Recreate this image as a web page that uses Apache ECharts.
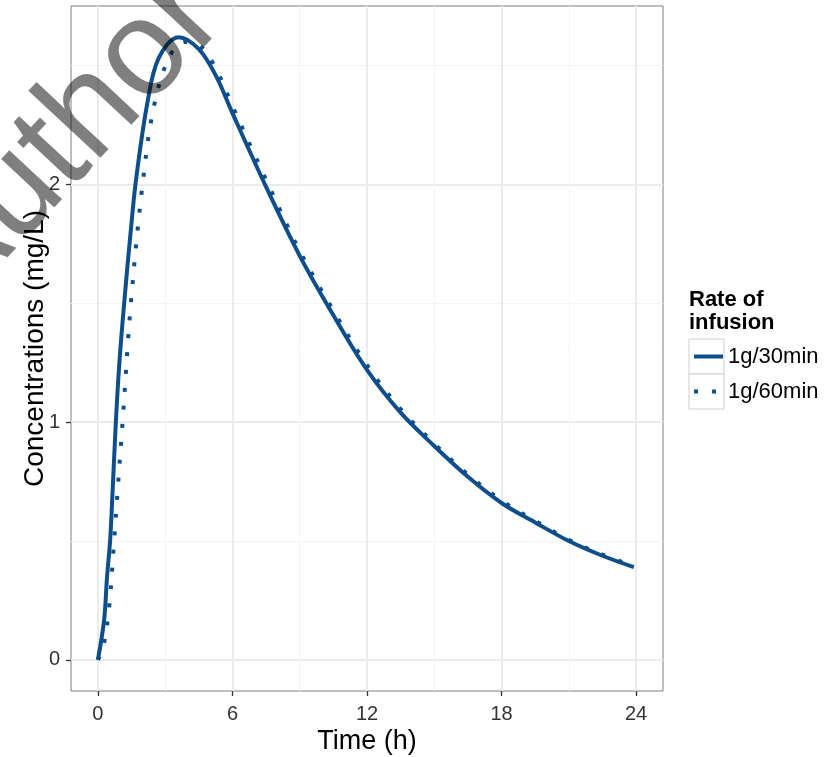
<!DOCTYPE html>
<html>
<head>
<meta charset="utf-8">
<script src="https://cdn.jsdelivr.net/npm/echarts@6/dist/echarts.min.js"></script>
<style>
html,body{margin:0;padding:0;background:#fff;}
#chart{width:829px;height:757px;}
</style>
</head>
<body>
<div id="chart"></div>
<script>
// Data
const seriesNames = ['1g/30min', '1g/60min'];
const time30 = [0, 0.28, 0.4, 0.55, 0.65, 0.8, 0.95, 1.17, 1.47, 1.7, 2.2, 2.7, 3.6, 4.5, 5.25, 6.0, 7.5, 9.0, 10.5, 12.0, 13.5, 15.0, 16.5, 18.0, 19.5, 21.0, 22.5, 23.9];
const conc30 = [0, 0.17, 0.34, 0.51, 0.70, 1.0, 1.24, 1.5, 1.81, 2.02, 2.34, 2.53, 2.62, 2.57, 2.46, 2.30, 1.99, 1.70, 1.45, 1.22, 1.04, 0.90, 0.77, 0.66, 0.578, 0.50, 0.438, 0.39];
const time60 = [0, 0.25, 0.5, 0.7, 0.87, 1.1, 1.47, 1.99, 2.5, 3.2, 3.9, 4.6, 5.3, 6.0, 7.5, 9.0, 10.5, 12.0, 13.5, 15.0, 16.5, 18.0, 19.5, 21.0, 22.5, 23.9];
const conc60 = [0, 0.06, 0.22, 0.47, 0.70, 1.0, 1.5, 2.0, 2.33, 2.54, 2.60, 2.58, 2.48, 2.33, 2.02, 1.72, 1.47, 1.24, 1.055, 0.91, 0.78, 0.67, 0.585, 0.505, 0.443, 0.395];
const xTicks = [0, 6, 12, 18, 24];
const xMinorTicks = [3, 9, 15, 21];
const yTicks = [0, 1, 2];
const yMinorTicks = [0.5, 1.5, 2.5];

const zip = (a, b) => a.map((v, i) => [v, b[i]]);
const lineColor = '#0f4e8c';
const font = 'Liberation Sans, Arial, sans-serif';

const chart = echarts.init(document.getElementById('chart'), null, {renderer: 'canvas'});
chart.setOption({
  animation: false,
  backgroundColor: '#ffffff',
  textStyle: {fontFamily: font},
  grid: {left: 71, top: 6, right: 166, bottom: 66, show: true, borderColor: '#7f7f7f', borderWidth: 1,
         backgroundColor: 'transparent', containLabel: false, outerBoundsMode: 'none'},
  title: {
    text: 'Rate of\ninfusion', left: 689, top: 288, padding: 0,
    textStyle: {fontFamily: font, fontSize: 22, fontWeight: 'bold', color: '#000', lineHeight: 23}
  },
  legend: {
    orient: 'vertical', left: 692, top: 342.5, padding: 0, itemGap: 7,
    itemWidth: 29, itemHeight: 35,
    itemStyle: {opacity: 0},
    lineStyle: {width: 4},
    textStyle: {fontFamily: font, fontSize: 22, color: '#000', padding: [0, 0, 0, 0]},
    data: seriesNames
  },
  xAxis: [{
    type: 'value', min: -1.2, max: 25.2,
    name: 'Time (h)', nameLocation: 'middle', nameGap: 37, nameMoveOverlap: false,
    nameTextStyle: {fontFamily: font, fontSize: 27, color: '#000'},
    axisLine: {show: false, onZero: false},
    axisTick: {show: true, length: 5, customValues: xTicks, lineStyle: {color: '#333', width: 1.3}},
    axisLabel: {customValues: xTicks, fontFamily: font, fontSize: 20, color: '#333', margin: 13},
    splitLine: {show: true, lineStyle: {color: '#ebebeb', width: 2}}
  }, {
    type: 'value', min: -1.2, max: 25.2, position: 'bottom',
    axisLine: {show: false, onZero: false}, axisLabel: {show: false},
    axisTick: {show: false, customValues: xMinorTicks},
    splitLine: {show: true, lineStyle: {color: '#f5f5f5', width: 1}}
  }],
  yAxis: [{
    type: 'value', min: -0.131, max: 2.751,
    name: 'Concentrations (mg/L)', nameLocation: 'middle', nameGap: 22, nameMoveOverlap: false,
    nameTextStyle: {fontFamily: font, fontSize: 28, color: '#000'},
    axisLine: {show: false, onZero: false},
    axisTick: {show: true, length: 5, customValues: yTicks, lineStyle: {color: '#333', width: 1.3}},
    axisLabel: {customValues: yTicks, fontFamily: font, fontSize: 20, color: '#333', margin: 11},
    splitLine: {show: true, lineStyle: {color: '#ebebeb', width: 2}}
  }, {
    type: 'value', min: -0.131, max: 2.751, position: 'left',
    axisLine: {show: false, onZero: false}, axisLabel: {show: false},
    axisTick: {show: false, customValues: yMinorTicks},
    splitLine: {show: true, lineStyle: {color: '#f5f5f5', width: 1}}
  }],
  graphic: [
    {type: 'rect', shape: {x: 689, y: 339, width: 35, height: 35}, style: {fill: '#fff', stroke: '#cfcfcf', lineWidth: 1}},
    {type: 'rect', shape: {x: 689, y: 374, width: 35, height: 35}, style: {fill: '#fff', stroke: '#cfcfcf', lineWidth: 1}},
    {type: 'text', x: 64, y: 142, rotation: 47 * Math.PI / 180, z: 100,
     style: {text: 'Author', fontFamily: font, fontSize: 136, fill: 'rgba(0,0,0,0.5)', align: 'center', verticalAlign: 'middle'}}
  ],
  series: [{
    name: seriesNames[0], type: 'line', xAxisIndex: 0, yAxisIndex: 0,
    data: zip(time30, conc30), showSymbol: false, symbol: 'none', smooth: 0.35,
    color: lineColor, lineStyle: {color: lineColor, width: 4}
  }, {
    name: seriesNames[1], type: 'line', xAxisIndex: 0, yAxisIndex: 0,
    data: zip(time60, conc60), showSymbol: false, symbol: 'none', smooth: 0.35,
    color: lineColor, lineStyle: {color: lineColor, width: 4, type: [4, 14]}
  }]
});
</script>
</body>
</html>
